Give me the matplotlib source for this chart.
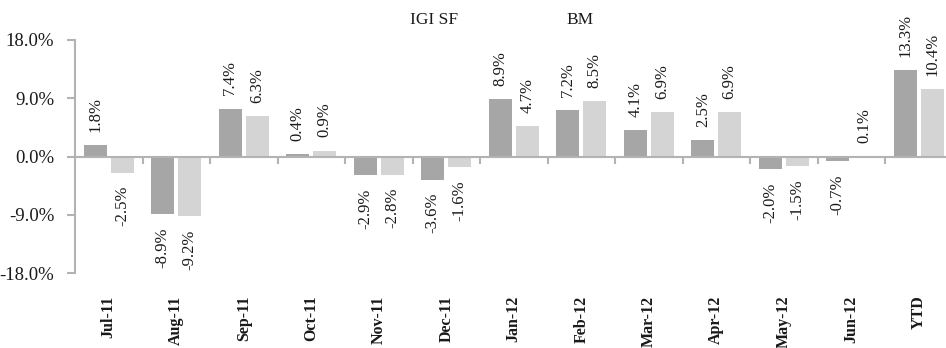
import numpy as np
import matplotlib
matplotlib.use("Agg")
import matplotlib.pyplot as plt

plt.rcParams["font.family"] = ["Liberation Serif", "DejaVu Serif"]

months = ["Jul-11", "Aug-11", "Sep-11", "Oct-11", "Nov-11", "Dec-11",
          "Jan-12", "Feb-12", "Mar-12", "Apr-12", "May-12", "Jun-12", "YTD"]
igi_sf = [1.8, -8.9, 7.4, 0.4, -2.9, -3.6, 8.9, 7.2, 4.1, 2.5, -2.0, -0.7, 13.3]
bm     = [-2.5, -9.2, 6.3, 0.9, -2.8, -1.6, 4.7, 8.5, 6.9, 6.9, -1.5, 0.1, 10.4]
yticks = [-18, -9, 0, 9, 18]

DARK, LIGHT, AXC, TXT = "#a6a6a6", "#d4d4d4", "#b3b3b3", "#1a1a1a"
W, OFF = 0.34, 0.2

fig = plt.figure(figsize=(9.46, 3.48), dpi=100)
# axes slightly wider than the figure: the YTD group is cut at the right edge
ax = fig.add_axes([75/946, 1-273/348, 877.5/946, 233/348])

x = np.arange(len(months))
b1 = ax.bar(x - OFF, igi_sf, W, color=DARK, zorder=2)
b2 = ax.bar(x + OFF, bm, W, color=LIGHT, zorder=2)

for bars, vals in ((b1, igi_sf), (b2, bm)):
    for rect, v in zip(bars, vals):
        cx = rect.get_x() + rect.get_width()/2
        ax.annotate(f"{v:.1f}%", (cx, v), xytext=(0, 9.5 if v >= 0 else -9.5),
                    textcoords="offset points", rotation=90, ha="center",
                    va="bottom" if v >= 0 else "top", fontsize=12, color=TXT)

ax.set_xlim(-0.5, len(months) - 0.5)
ax.set_ylim(-18, 18)
ax.set_yticks(yticks)
ax.set_yticklabels([f"{t:.1f}%" for t in yticks], fontsize=13.5, color=TXT)

for s in ("top", "right"):
    ax.spines[s].set_visible(False)
ax.spines["left"].set_color(AXC)
ax.spines["left"].set_linewidth(1.5)
ax.spines["bottom"].set_position(("data", 0))
ax.spines["bottom"].set_color(AXC)
ax.spines["bottom"].set_linewidth(1.5)
ax.tick_params(axis="y", length=6, width=1.5, color=AXC, pad=9)

ax.set_xticks(x)
ax.set_xticklabels(months, rotation=90, fontsize=11.5, fontweight="bold",
                   color=TXT, va="top")
ax.set_xticks(np.arange(len(months)) + 0.5, minor=True)
ax.tick_params(axis="x", which="major", length=0, pad=100)
ax.tick_params(axis="x", which="minor", length=5, width=1.5, color=AXC,
               direction="out")

fig.text(410/946, 1-20/348, "IGI SF", fontsize=12.5, color=TXT, va="center")
fig.text(566/946, 1-20/348, "BM", fontsize=12.5, color=TXT, va="center")

fig.savefig("out.png", dpi=100)
